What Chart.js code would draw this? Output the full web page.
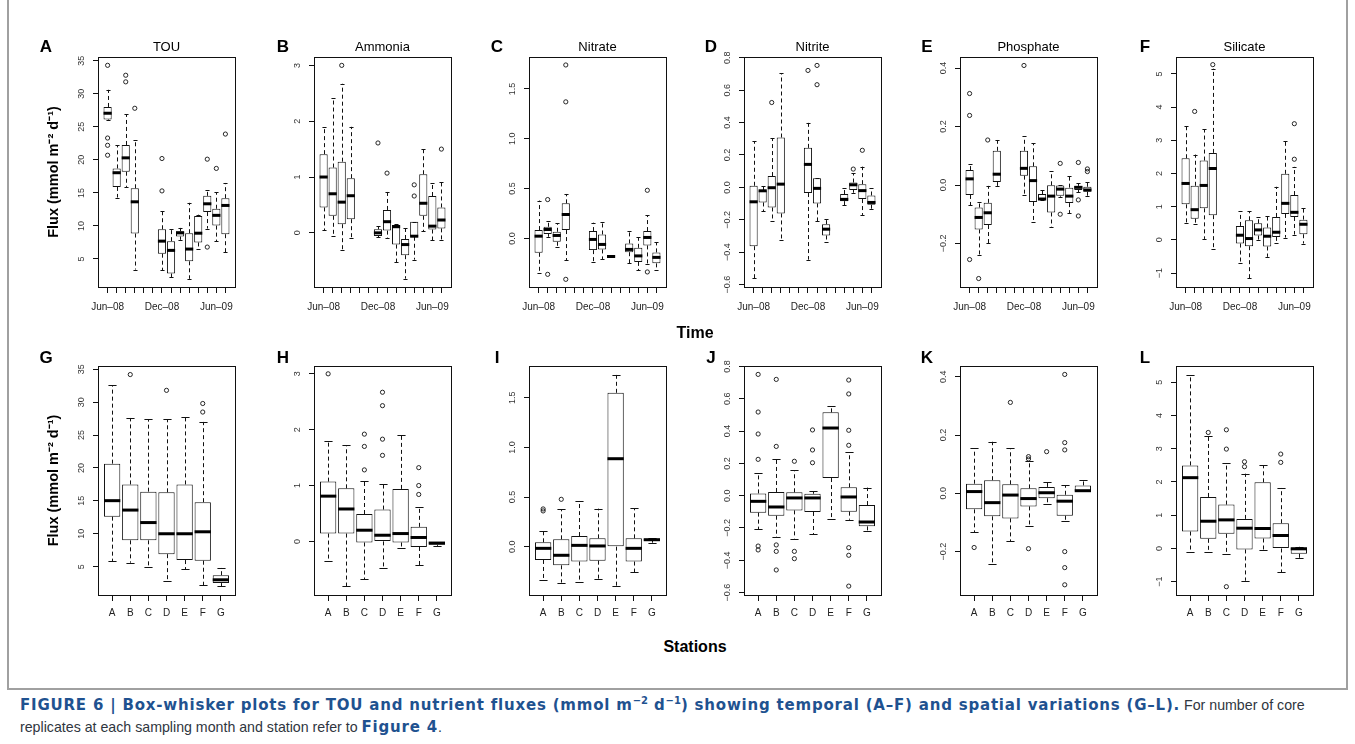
<!DOCTYPE html>
<html>
<head>
<meta charset="utf-8">
<title>Box-whisker plots for TOU and nutrient fluxes</title>
<script src="https://cdn.jsdelivr.net/npm/chart.js@4.4.1/dist/chart.umd.min.js"></script>
<style>
html, body { margin:0; padding:0; background:#fff; }
body { position:relative; width:1355px; height:744px; overflow:hidden; font-family:"Liberation Sans", Arial, Helvetica, sans-serif; }
canvas { position:absolute; }
.t { position:absolute; white-space:nowrap; transform:translate(-50%,-50%); line-height:1; color:#000; }
.letter { font-size:17px; font-weight:bold; }
.vtitle { font-size:13px; }
.axname { font-size:16px; font-weight:bold; }
#frame { position:absolute; left:7px; top:-3px; width:1341px; height:693px; border:2px solid #a0a0a0; box-sizing:border-box; }
.cap { position:absolute; left:20px; font-family:"Liberation Sans", Arial, sans-serif; font-size:14.2px; line-height:22px; color:#2f3640; white-space:nowrap; }
#cap1 { top:694px; }
#cap2 { top:716px; }
.cap b { font-family:"DejaVu Sans", "Liberation Sans", sans-serif; font-size:15px; letter-spacing:0.8px; color:#1f5290; }
.cap sup { font-size:10px; line-height:0; letter-spacing:0; }
</style>
</head>
<body>
<div id="frame"></div>
<div class="cap" id="cap1"><b>FIGURE 6 | Box-whisker plots for TOU and nutrient fluxes (mmol m<sup>−2</sup> d<sup>−1</sup>) showing temporal (A–F) and spatial variations (G–L).</b> For number of core</div>
<div class="cap" id="cap2">replicates at each sampling month and station refer to <b>Figure 4</b>.</div>
<script>
// ---------- categories & tick labels ----------
const months = ["Jun-08","Jul-08","Aug-08","Sep-08","Oct-08","Nov-08","Dec-08","Jan-09","Feb-09","Mar-09","Apr-09","May-09","Jun-09","Jul-09"];
const monthTickLabels = ["Jun–08","","","","","","Dec–08","","","","","","Jun–09",""];
const stations = ["A","B","C","D","E","F","G"];
const stationTickLabels = ["A","B","C","D","E","F","G"];
const variables = ["TOU","Ammonia","Nitrate","Nitrite","Phosphate","Silicate"];
const panelLetters = ["A","B","C","D","E","F","G","H","I","J","K","L"];
const yAxisTitle = "Flux (mmol m⁻² d⁻¹)";
const topAxisName = "Time";
const bottomAxisName = "Stations";

const touTicks = [5,10,15,20,25,30,35];
const touTickLabels = ["5","10","15","20","25","30","35"];
const ammoniaTicks = [0,1,2,3];
const ammoniaTickLabels = ["0","1","2","3"];
const nitrateTicks = [0,0.5,1,1.5];
const nitrateTickLabels = ["0.0","0.5","1.0","1.5"];
const nitriteTicks = [-0.6,-0.4,-0.2,0,0.2,0.4,0.6,0.8];
const nitriteTickLabels = ["−0.6","−0.4","−0.2","0.0","0.2","0.4","0.6","0.8"];
const phosphateTicks = [-0.2,0,0.2,0.4];
const phosphateTickLabels = ["−0.2","0.0","0.2","0.4"];
const silicateTicks = [-1,0,1,2,3,4,5];
const silicateTickLabels = ["−1","0","1","2","3","4","5"];

// ---------- box statistics: [lower whisker, Q1, median, Q3, upper whisker] ----------
// temporal (by month), null = no sampling
const touByMonth = [
  [26.0,26.1,27.05,28.0,30.6],[14.3,15.9,18.05,18.7,22.2],[15.9,18.2,20.3,22.25,26.9],[3.4,8.85,13.65,15.7,23.0],
  null,null,
  [3.3,5.8,7.7,9.5,12.2],[2.2,2.8,6.3,7.7,9.5],[7.9,8.4,8.95,9.2,9.7],[2.0,4.65,6.5,8.9,13.5],
  [6.5,7.5,8.9,11.5,11.7],[9.6,12.1,13.35,14.55,15.4],[7.7,10.05,11.6,12.6,15.1],[6.05,8.75,13.1,14.2,16.5]];
const touByMonthOut = [[34.3,23.3,22.2,20.7],[],[32.8,31.8],[27.8],[],[],[20.2,15.3],[],[],[],[],[20.1,6.8],[18.7],[23.9]];

const ammoniaByMonth = [
  [0.05,0.455,1.0,1.41,1.90],[-0.05,0.305,0.70,1.17,2.41],[-0.30,0.155,0.55,1.275,2.67],[-0.09,0.245,0.665,0.98,1.90],
  null,null,
  [-0.08,-0.055,0.0,0.065,0.12],[-0.10,0.04,0.20,0.41,0.74],[-0.53,-0.21,0.11,0.14,0.15],[-0.82,-0.40,-0.21,-0.11,0.08],
  [-0.48,-0.07,-0.06,0.20,0.20],[0.03,0.305,0.53,1.05,1.51],[-0.13,0.06,0.12,0.66,0.89],[-0.12,0.08,0.23,0.455,0.91]];
const ammoniaByMonthOut = [[],[],[3.0],[],[],[],[1.61],[1.07],[],[],[0.86,0.66],[],[],[1.50]];

const nitrateByMonth = [
  [-0.346,-0.144,0.023,0.084,0.38],[0.017,0.044,0.09,0.117,0.17],[-0.084,-0.034,0.03,0.067,0.15],[-0.218,0.084,0.24,0.352,0.446],
  null,null,
  [-0.238,-0.117,-0.01,0.074,0.158],[-0.211,-0.11,-0.06,0.04,0.164],[-0.184,-0.184,-0.181,-0.178,-0.178],null,
  [-0.25,-0.138,-0.11,-0.05,0.074],[-0.32,-0.235,-0.175,-0.094,0.01],[-0.26,-0.07,0.01,0.074,0.235],[-0.32,-0.25,-0.19,-0.14,-0.04]];
const nitrateByMonthOut = [[],[0.39,-0.36],[],[1.74,1.37,-0.41],[],[],[],[],[],[],[],[],[0.483,-0.336],[]];

const nitriteByMonth = [
  [-0.561,-0.363,-0.089,0.01,0.285],[-0.147,-0.093,-0.021,-0.017,0.008],[-0.21,-0.124,-0.002,0.07,0.305],[-0.326,-0.161,0.02,0.308,0.706],
  null,null,
  [-0.446,-0.035,0.142,0.244,0.40],[-0.208,-0.099,-0.006,0.056,0.056],[-0.34,-0.297,-0.258,-0.227,-0.198],null,
  [-0.11,-0.085,-0.074,-0.041,-0.006],[-0.033,-0.016,0.016,0.03,0.087],[-0.17,-0.072,-0.02,0.02,0.128],[-0.136,-0.107,-0.093,-0.05,-0.006]];
const nitriteByMonthOut = [[],[],[0.524],[],[],[],[0.722],[0.753,0.634],[],[],[],[0.113],[0.229],[]];

const phosphateByMonth = [
  [-0.07,-0.034,0.021,0.051,0.072],[-0.24,-0.152,-0.111,-0.077,-0.057],[-0.20,-0.137,-0.095,-0.061,-0.003],[-0.003,0.01,0.037,0.117,0.154],
  null,null,
  [-0.034,0.032,0.057,0.117,0.166],[-0.125,-0.058,0.015,0.064,0.143],[-0.051,-0.049,-0.048,-0.031,-0.017],[-0.143,-0.094,-0.038,-0.001,0.047],
  [-0.04,-0.037,-0.014,-0.002,0.0],[-0.097,-0.062,-0.038,-0.009,0.032],[-0.025,-0.017,-0.008,-0.003,0.006],[-0.037,-0.023,-0.017,-0.006,0.009]];
const phosphateByMonthOut = [[0.313,0.238,-0.255],[-0.32],[0.154],[],[],[],[0.409],[],[],[],[0.074,-0.1],[],[0.077,-0.051,-0.106],[0.055,0.046]];

const silicateByMonth = [
  [0.51,1.07,1.70,2.46,3.43],[0.48,0.64,0.91,1.63,2.57],[0.03,0.95,1.64,2.39,3.34],[-0.29,0.745,2.15,2.62,5.16],
  null,null,
  [-0.69,-0.11,0.14,0.42,0.87],[-1.15,-0.19,0.04,0.59,0.87],[0.0,0.13,0.30,0.50,0.68],[-0.51,-0.2,0.11,0.37,0.72],
  [-0.09,0.09,0.23,0.69,1.60],[0.07,0.78,1.10,1.99,2.99],[0.16,0.69,0.83,1.35,2.20],[-0.11,0.17,0.47,0.61,0.95]];
const silicateByMonthOut = [[],[3.87],[],[5.28],[],[],[],[],[],[],[],[],[3.50,2.43],[]];

// spatial (by station)
const touByStation = [[5.86,12.6,15.03,20.66,32.6],[5.6,9.0,13.6,17.5,27.6],[5.0,9.0,11.7,16.4,27.4],[2.8,6.9,10.0,16.3,27.4],[4.6,6.0,10.0,17.5,27.7],[2.2,5.9,10.3,14.8,27.0],[2.0,2.5,3.0,3.7,4.8]];
const touByStationOut = [[],[34.2],[],[31.8],[],[29.8,28.5],[]];

const ammoniaByStation = [[-0.35,0.14,0.81,1.07,1.80],[-0.80,0.14,0.58,0.95,1.72],[-0.68,-0.02,0.20,0.49,1.09],[-0.47,0.0,0.11,0.57,1.02],[-0.11,-0.02,0.14,0.94,1.91],[-0.43,-0.1,0.07,0.26,0.62],[-0.08,-0.06,-0.03,-0.01,-0.006]];
const ammoniaByStationOut = [[3.0],[],[1.92,1.70,1.28],[2.67,2.43,1.83,1.54],[],[1.32,1.0,0.84],[]];

const nitrateByStation = [[-0.336,-0.134,-0.017,0.044,0.158],[-0.362,-0.188,-0.087,0.074,0.376],[-0.352,-0.15,0.013,0.107,0.46],[-0.322,-0.141,0.007,0.084,0.383],[-0.40,0.0,0.886,1.55,1.73],[-0.26,-0.15,-0.017,0.084,0.386],[0.04,0.06,0.07,0.08,0.084]];
const nitrateByStationOut = [[0.38,0.36],[0.477],[],[],[],[],[]];

const nitriteByStation = [[-0.208,-0.105,-0.035,0.014,0.142],[-0.258,-0.124,-0.07,0.023,0.227],[-0.266,-0.091,-0.014,0.021,0.159],[-0.237,-0.101,-0.014,0.012,0.027],[-0.142,0.109,0.419,0.516,0.557],[-0.149,-0.099,-0.008,0.052,0.268],[-0.217,-0.19,-0.163,-0.058,0.05]];
const nitriteByStationOut = [[0.751,0.518,0.382,0.225,-0.312,-0.336],[0.72,0.305,-0.305,-0.345,-0.46],[0.213,-0.345,-0.39],[0.407,0.283,0.204],[],[0.716,0.63,0.405,0.312,-0.322,-0.369,-0.56],[]];

const phosphateByStation = [[-0.133,-0.055,0.006,0.033,0.155],[-0.242,-0.079,-0.032,0.045,0.177],[-0.165,-0.086,-0.006,0.031,0.155],[-0.113,-0.045,-0.018,0.017,0.11],[-0.037,-0.017,0.002,0.022,0.038],[-0.094,-0.077,-0.027,-0.005,0.027],[0.007,0.007,0.009,0.027,0.045]];
const phosphateByStationOut = [[-0.186],[],[0.312],[0.126,0.118,-0.19],[0.143],[0.408,0.174,0.149,-0.2,-0.255,-0.314],[]];

const silicateByStation = [[-0.12,0.51,2.13,2.50,5.22],[-0.12,0.29,0.82,1.55,3.39],[-0.17,0.44,0.86,1.32,2.57],[-0.97,-0.03,0.61,0.89,2.25],[-0.06,0.30,0.60,1.99,2.50],[-0.71,0.0,0.39,0.76,1.82],[-0.30,-0.16,-0.01,0.03,0.05]];
const silicateByStationOut = [[],[3.49],[3.57,2.99,-1.15],[2.61,2.46],[],[2.84,2.59],[]];

// ---------- panel table (built from the arrays above) ----------
const panels = [
  {stats: touByMonth, out: touByMonthOut, cats: months, xLabels: monthTickLabels, yTicks: touTicks, yLabels: touTickLabels, yMin: 0.76, yMax: 35.56},
  {stats: ammoniaByMonth, out: ammoniaByMonthOut, cats: months, xLabels: monthTickLabels, yTicks: ammoniaTicks, yLabels: ammoniaTickLabels, yMin: -0.97, yMax: 3.15},
  {stats: nitrateByMonth, out: nitrateByMonthOut, cats: months, xLabels: monthTickLabels, yTicks: nitrateTicks, yLabels: nitrateTickLabels, yMin: -0.487, yMax: 1.82},
  {stats: nitriteByMonth, out: nitriteByMonthOut, cats: months, xLabels: monthTickLabels, yTicks: nitriteTicks, yLabels: nitriteTickLabels, yMin: -0.615, yMax: 0.805},
  {stats: phosphateByMonth, out: phosphateByMonthOut, cats: months, xLabels: monthTickLabels, yTicks: phosphateTicks, yLabels: phosphateTickLabels, yMin: -0.349, yMax: 0.438},
  {stats: silicateByMonth, out: silicateByMonthOut, cats: months, xLabels: monthTickLabels, yTicks: silicateTicks, yLabels: silicateTickLabels, yMin: -1.42, yMax: 5.51},
  {stats: touByStation, out: touByStationOut, cats: stations, xLabels: stationTickLabels, yTicks: touTicks, yLabels: touTickLabels, yMin: 0.69, yMax: 35.5},
  {stats: ammoniaByStation, out: ammoniaByStationOut, cats: stations, xLabels: stationTickLabels, yTicks: ammoniaTicks, yLabels: ammoniaTickLabels, yMin: -0.96, yMax: 3.14},
  {stats: nitrateByStation, out: nitrateByStationOut, cats: stations, xLabels: stationTickLabels, yTicks: nitrateTicks, yLabels: nitrateTickLabels, yMin: -0.487, yMax: 1.82},
  {stats: nitriteByStation, out: nitriteByStationOut, cats: stations, xLabels: stationTickLabels, yTicks: nitriteTicks, yLabels: nitriteTickLabels, yMin: -0.615, yMax: 0.803},
  {stats: phosphateByStation, out: phosphateByStationOut, cats: stations, xLabels: stationTickLabels, yTicks: phosphateTicks, yLabels: phosphateTickLabels, yMin: -0.349, yMax: 0.437},
  {stats: silicateByStation, out: silicateByStationOut, cats: stations, xLabels: stationTickLabels, yTicks: silicateTicks, yLabels: silicateTickLabels, yMin: -1.40, yMax: 5.49}
];

// ---------- layout ----------
const frameLefts = [98, 314, 529, 744, 960, 1176];
const frameWidth = 137;
const rowTops = [57, 366];
const rowBottoms = [287, 595];
const AXIS_W = 60, PAD_TOP = 10, PAD_RIGHT = 8, XAXIS_H = 30;

Chart.defaults.font.family = "'Liberation Sans', Arial, Helvetica, sans-serif";
Chart.defaults.color = '#222';

const boxPlugin = {
  id: 'boxExtras',
  afterDatasetsDraw(chart, args, opts) {
    const ctx = chart.ctx, y = chart.scales.y, a = chart.chartArea;
    const meta = chart.getDatasetMeta(0);
    const data = chart.data.datasets[0].data;
    ctx.save();
    ctx.strokeStyle = '#111';
    meta.data.forEach((bar, k) => {
      const s = data[k].s;
      const cx = Math.round(bar.x) + 0.5, w = bar.width;
      const pLo = y.getPixelForValue(s[0]), pQ1 = y.getPixelForValue(s[1]);
      const pMed = y.getPixelForValue(s[2]), pQ3 = y.getPixelForValue(s[3]), pHi = y.getPixelForValue(s[4]);
      ctx.lineWidth = 1;
      ctx.setLineDash([4, 3]);
      ctx.beginPath();
      if (pHi < pQ3 - 0.5) { ctx.moveTo(cx, pQ3); ctx.lineTo(cx, pHi); }
      if (pLo > pQ1 + 0.5) { ctx.moveTo(cx, pQ1); ctx.lineTo(cx, pLo); }
      ctx.stroke();
      ctx.setLineDash([]);
      ctx.beginPath();
      ctx.moveTo(cx - w / 4, Math.round(pHi) + 0.5); ctx.lineTo(cx + w / 4, Math.round(pHi) + 0.5);
      ctx.moveTo(cx - w / 4, Math.round(pLo) + 0.5); ctx.lineTo(cx + w / 4, Math.round(pLo) + 0.5);
      ctx.stroke();
      ctx.lineWidth = 3;
      ctx.strokeStyle = '#000';
      ctx.beginPath();
      ctx.moveTo(bar.x - w / 2, pMed); ctx.lineTo(bar.x + w / 2, pMed);
      ctx.stroke();
      ctx.strokeStyle = '#111';
    });
    // plot frame
    ctx.lineWidth = 1;
    ctx.strokeStyle = '#111';
    ctx.strokeRect(Math.round(a.left) + 0.5, Math.round(a.top) + 0.5, Math.round(a.right - a.left), Math.round(a.bottom - a.top));
    ctx.restore();
  },
  afterDraw(chart, args, opts) {
    // rotated y tick labels (R style, reading upward)
    const ctx = chart.ctx, y = chart.scales.y, a = chart.chartArea;
    const p = opts.panel;
    ctx.save();
    ctx.fillStyle = '#333';
    ctx.font = "9px 'Liberation Sans', Arial, sans-serif";
    ctx.textAlign = 'center';
    ctx.textBaseline = 'alphabetic';
    p.yTicks.forEach((v, i) => {
      const py = y.getPixelForValue(v);
      ctx.save();
      ctx.translate(a.left - 14, py);
      ctx.rotate(-Math.PI / 2);
      ctx.fillText(p.yLabels[i], 0, 0);
      ctx.restore();
    });
    ctx.restore();
  }
};

function addText(cls, text, x, y) {
  const d = document.createElement('div');
  d.className = 't ' + cls;
  d.textContent = text;
  d.style.left = x + 'px';
  d.style.top = y + 'px';
  document.body.appendChild(d);
}

panels.forEach((p, i) => {
  const row = Math.floor(i / 6), col = i % 6;
  const fl = frameLefts[col], ft = rowTops[row], fb = rowBottoms[row];
  const cv = document.createElement('canvas');
  const W = frameWidth + AXIS_W + PAD_RIGHT, H = (fb - ft) + PAD_TOP + XAXIS_H;
  cv.width = W; cv.height = H;
  cv.style.left = (fl - AXIS_W) + 'px';
  cv.style.top = (ft - PAD_TOP) + 'px';
  cv.style.width = W + 'px'; cv.style.height = H + 'px';
  document.body.appendChild(cv);

  const n = p.cats.length;
  const boxData = [];
  p.stats.forEach((s, k) => { if (s) boxData.push({x: k + 1, y: [s[1], s[3]], s: s}); });
  const outData = [];
  p.out.forEach((arr, k) => arr.forEach(v => outData.push({x: k + 1, y: v})));
  const ext = 0.04 * n;
  const withTitle = (col === 0);

  new Chart(cv, {
    type: 'bar',
    data: {
      datasets: [
        {type: 'bar', label: variables[col], data: boxData, backgroundColor: '#fff', borderColor: '#111', borderWidth: 1, borderSkipped: false, barPercentage: 0.9, categoryPercentage: 1.0, order: 2},
        {type: 'scatter', label: 'outliers', data: outData, pointRadius: 2.1, pointBorderWidth: 0.9, pointBorderColor: '#111', pointBackgroundColor: 'rgba(0,0,0,0)', showLine: false, order: 1}
      ]
    },
    options: {
      responsive: false, animation: false, devicePixelRatio: 1, events: [],
      layout: {padding: {left: 0, top: PAD_TOP, right: PAD_RIGHT, bottom: 0}},
      plugins: {legend: {display: false}, tooltip: {enabled: false}, boxExtras: {panel: p}},
      scales: {
        x: {
          type: 'linear', offset: false, min: 0.5 - ext, max: n + 0.5 + ext,
          grid: {display: true, offset: false, drawOnChartArea: false, drawTicks: true, tickLength: 6, color: '#111', lineWidth: 1},
          border: {display: false},
          afterBuildTicks: s => { s.ticks = p.cats.map((c, k) => ({value: k + 1})); },
          afterFit: s => { s.height = XAXIS_H; },
          ticks: {autoSkip: false, maxRotation: 0, minRotation: 0, padding: row === 0 ? 8 : 6.5, color: '#222', font: {size: 10},
                  callback: (v, idx) => p.xLabels[idx]}
        },
        y: {
          type: 'linear', min: p.yMin, max: p.yMax,
          grid: {display: true, drawOnChartArea: false, drawTicks: true, tickLength: 5, color: '#111', lineWidth: 1},
          border: {display: false},
          afterBuildTicks: s => { s.ticks = p.yTicks.map(v => ({value: v})); },
          afterFit: s => { s.width = AXIS_W; },
          ticks: {display: false},
          title: {display: withTitle, text: yAxisTitle, color: '#000', font: {size: 14.5, weight: 'bold'}, padding: {top: 7, bottom: 0}}
        }
      }
    },
    plugins: [boxPlugin]
  });

  // panel letter
  const letterX = [46, 283, 497, 711, 927, 1145];
  addText('letter', panelLetters[i], letterX[col], row === 0 ? 46 : 357);
  if (row === 0) addText('vtitle', variables[col], fl + frameWidth / 2, 46);
});

addText('axname', topAxisName, 695, 333);
addText('axname', bottomAxisName, 695, 647);
</script>
</body>
</html>
